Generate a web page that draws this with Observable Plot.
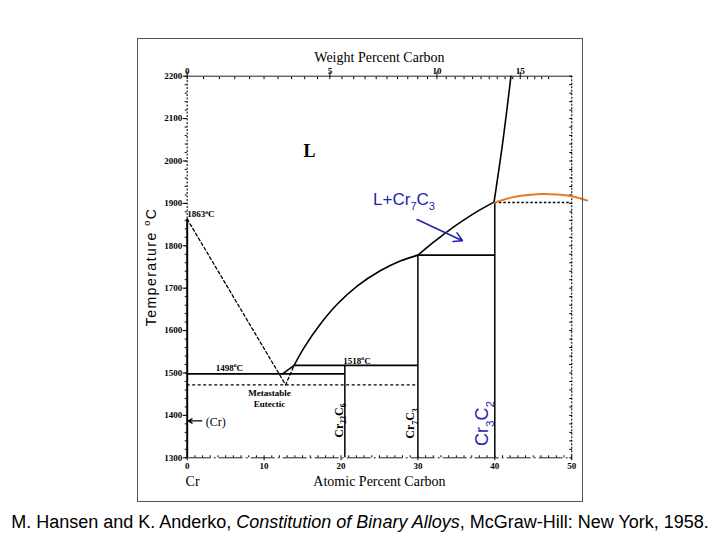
<!DOCTYPE html>
<html><head><meta charset="utf-8">
<script src="https://cdn.jsdelivr.net/npm/d3@7"></script>
<script src="https://cdn.jsdelivr.net/npm/@observablehq/plot@0.6"></script>
<style>
body{margin:0;background:#fff;width:720px;position:relative;}
#chart svg{display:block;}
#frame{position:absolute;left:137px;top:38px;width:444px;height:462px;border:1.5px solid #555;pointer-events:none;}
#caption{font-family:"Liberation Sans",Arial,sans-serif;font-size:18px;text-align:center;height:32px;line-height:28px;white-space:nowrap;color:#000;}
</style></head><body>
<div id="chart"></div>
<div id="frame"></div>
<div id="caption">M. Hansen and K. Anderko, <i>Constitution of Binary Alloys</i>, McGraw-Hill: New York, 1958.</div>
<script>
// ---- tick labels ----
const tempTicks = [1300, 1400, 1500, 1600, 1700, 1800, 1900, 2000, 2100, 2200];
const atTicks = [0, 10, 20, 30, 40, 50];
const wtTicks = [0, 5, 10, 15];

// ---- phase boundaries (atomic % C, °C) ----
const liqLowAt = [13.9, 15.2, 17.3, 19.5, 22.1, 25.1, 27.7, 30.0];
const liqLowT  = [1518, 1560, 1615, 1662, 1705, 1741, 1764, 1778];
const liqHighAt = [30.0, 32.0, 34.0, 36.0, 38.0, 39.9];
const liqHighT  = [1778, 1808, 1836, 1861, 1884, 1903];
const upperAt = [39.9, 41.0, 42.1];
const upperT  = [1903, 2040, 2200];
const eutAt = [12.4, 13.9];
const eutT  = [1498, 1518];
const metaAt = [0, 12.8, 13.9];
const metaT  = [1863, 1472, 1518];
const orangeAt = [40, 42, 44, 46, 48, 50, 52];
const orangeT  = [1902, 1913, 1919, 1922, 1921, 1917, 1907];
// isotherms
const isoT    = [1498, 1518, 1778];
const isoFrom = [0, 13.9, 30];
const isoTo   = [20.5, 30, 40];
// compounds / pure Cr (vertical lines)
const compAt  = [0, 20.5, 30, 40];
const compTop = [1863, 1518, 1778, 1903];
const metaEutT = 1472, metaEutTo = 30;
const dotT = 1902, dotFrom = 40, dotTo = 50;
const crMelt = 1863;

const MC = 12.011, MCr = 51.996;
const wtToAt = w => 100 * (w / MC) / (w / MC + (100 - w) / MCr);

const zip = (xs, ys) => xs.map((x, i) => ({x, y: ys[i]}));
const serif = "Liberation Serif, Times New Roman, serif";
const sans = "Liberation Sans, Arial, sans-serif";
const blue = "#2222b4";

const isotherms = isoT.map((t, i) => ({y: t, x1: isoFrom[i], x2: isoTo[i]}));
const comps = compAt.map((a, i) => ({x: a, y1: tempTicks[0], y2: compTop[i]}));

const labels = [
  {x: 0, y: 1874, t: "1863^oC"},
  {x: 3.7, y: 1511, t: "1498^oC"},
  {x: 20.3, y: 1528, t: "1518^oC"},
];

const chart = Plot.plot({
  width: 720, height: 508,
  marginLeft: 186.7, marginRight: 148.8, marginTop: 75.7, marginBottom: 50.7,
  x: {domain: [0, 50], axis: null},
  y: {domain: [1300, 2200], axis: null},
  marks: [
    // axis lines
    Plot.ruleY([tempTicks[tempTicks.length - 1]], {stroke: "#222", strokeWidth: 1}),
    Plot.ruleY([tempTicks[0]], {stroke: "#222", strokeWidth: 1, strokeDasharray: "24,3,2,3"}),
    Plot.ruleX([atTicks[atTicks.length - 1]], {stroke: "#222", strokeWidth: 1.2, strokeDasharray: "2,1.5"}),
    Plot.ruleX([0], {y1: crMelt, y2: tempTicks[tempTicks.length - 1], stroke: "#222", strokeWidth: 1.2, strokeDasharray: "2,1.5"}),
    // axes ticks
    Plot.axisY(tempTicks, {anchor: "left", tickSize: 4, tickPadding: 1, tickFormat: d => String(d), fontSize: 9, fontFamily: serif, fontWeight: "bold", label: null}),
    Plot.axisY(d3.range(1300, 2201, 20), {anchor: "left", tickSize: 2, tickFormat: () => "", label: null}),
    Plot.axisY(d3.range(1300, 2201, 20), {anchor: "right", tickSize: -3, tickFormat: () => "", label: null}),
    Plot.axisX(atTicks, {anchor: "bottom", tickSize: 3, tickPadding: 2, tickFormat: d => String(d), fontSize: 9, fontFamily: serif, fontWeight: "bold", label: null}),
    Plot.axisX(d3.range(0, 51, 1), {anchor: "bottom", tickSize: -2, tickFormat: () => "", label: null}),
    Plot.axisX(d3.range(0, 17.5, 0.5).map(wtToAt), {anchor: "top", tickSize: -2.5, tickFormat: () => "", label: null}),
    Plot.axisX(wtTicks.map(wtToAt), {anchor: "top", tickSize: 5, tickFormat: () => "", label: null}),
    Plot.text(wtTicks, {x: wtToAt, text: d => String(d), frameAnchor: "top", dy: -9, fontSize: 9, fontFamily: serif, fontWeight: "bold"}),
    // axis titles
    Plot.text(["Weight Percent Carbon"], {frameAnchor: "top", dy: -23.7, fontSize: 14, fontFamily: serif}),
    Plot.text(["Atomic Percent Carbon"], {frameAnchor: "bottom", dy: 27.7, fontSize: 14, fontFamily: serif}),
    Plot.text(["Cr"], {x: 0.7, frameAnchor: "bottom", dy: 27.7, fontSize: 14, fontFamily: serif}),
    Plot.text(["Temperature ^oC"], {frameAnchor: "left", textAnchor: "middle", dx: -36, rotate: -90, fontSize: 14, fontFamily: sans}),
    // phase diagram lines
    Plot.ruleX([0], {y1: tempTicks[0], y2: crMelt, stroke: "#000", strokeWidth: 2}),
    Plot.ruleX(comps.slice(1), {x: "x", y1: "y1", y2: "y2", stroke: "#000", strokeWidth: 1.5}),
    Plot.ruleY(isotherms, {y: "y", x1: "x1", x2: "x2", stroke: "#000", strokeWidth: 1.8}),
    Plot.ruleY([metaEutT], {x1: 0, x2: metaEutTo, stroke: "#000", strokeWidth: 1.4, strokeDasharray: "3,2.5"}),
    Plot.ruleY([dotT], {x1: dotFrom, x2: dotTo, stroke: "#000", strokeWidth: 1.4, strokeDasharray: "2.5,2"}),
    Plot.line(zip(metaAt, metaT), {x: "x", y: "y", stroke: "#000", strokeWidth: 1.3, strokeDasharray: "3,2.5"}),
    Plot.line(zip(eutAt, eutT), {x: "x", y: "y", stroke: "#000", strokeWidth: 1.6}),
    Plot.line(zip(liqLowAt, liqLowT), {x: "x", y: "y", stroke: "#000", strokeWidth: 1.6, curve: "catmull-rom"}),
    Plot.line(zip(liqHighAt, liqHighT), {x: "x", y: "y", stroke: "#000", strokeWidth: 1.6, curve: "catmull-rom"}),
    Plot.line(zip(upperAt, upperT), {x: "x", y: "y", stroke: "#000", strokeWidth: 1.6, curve: "catmull-rom"}),
    Plot.line(zip(orangeAt, orangeT), {x: "x", y: "y", stroke: "#e87a22", strokeWidth: 2, curve: "catmull-rom"}),
    // annotations
    Plot.text(labels, {x: "x", y: "y", text: "t", textAnchor: "start", fontSize: 9, fontFamily: serif, fontWeight: "bold"}),
    Plot.text(["Metastable\nEutectic"], {x: 10.7, y: 1441, fontSize: 9, fontFamily: serif, fontWeight: "bold", lineHeight: 1.15}),
    Plot.text(["(Cr)"], {x: 2.4, y: 1385, textAnchor: "start", fontSize: 12, fontFamily: serif}),
    Plot.arrow([{x1: 1.9, x2: 0.15, y: 1387}], {x1: "x1", x2: "x2", y1: "y", y2: "y", stroke: "#000", strokeWidth: 1.3, headLength: 5}),
    Plot.text(["L"], {x: 15.9, y: 2024, fontSize: 18, fontFamily: serif, fontWeight: "bold"}),
    Plot.text(["Cr_{23}C_6"], {x: 19.7, y: 1388, rotate: -90, fontSize: 12, fontFamily: serif, fontWeight: "bold"}),
    Plot.text(["Cr_7C_3"], {x: 29.0, y: 1381, rotate: -90, fontSize: 12, fontFamily: serif, fontWeight: "bold"}),
    Plot.text(["Cr_3C_2"], {x: 38.4, y: 1381, rotate: -90, fontSize: 18, fontFamily: sans, fill: blue}),
    Plot.text(["L+Cr_7C_3"], {x: 28.2, y: 1910, fontSize: 17, fontFamily: sans, fill: blue}),
    Plot.arrow([{x1: 29.9, y1: 1862, x2: 35.8, y2: 1812}], {x1: "x1", y1: "y1", x2: "x2", y2: "y2", stroke: blue, strokeWidth: 1.6, headLength: 9}),
  ]
});
document.getElementById("chart").appendChild(chart);

// rich text: _x subscript, ^x superscript
const NS = "http://www.w3.org/2000/svg";
chart.querySelectorAll("text").forEach(t => {
  if (t.children.length) return;
  const s = t.textContent;
  if (s.startsWith("Temperature")) t.style.letterSpacing = "1.5px";
  if (!/[_^]/.test(s)) return;
  const fs = parseFloat(getComputedStyle(t).fontSize) || 10;
  t.textContent = "";
  const re = /([_^])(\{[^}]*\}|.)|([^_^]+)/g;
  let m, off = 0;
  while ((m = re.exec(s))) {
    const ts = document.createElementNS(NS, "tspan");
    if (m[3]) {
      ts.textContent = m[3];
      if (off) ts.setAttribute("dy", (-off) + "px");
      off = 0;
    } else {
      let c = m[2];
      if (c[0] === "{") c = c.slice(1, -1);
      const target = m[1] === "_" ? 0.3 * fs : -0.42 * fs;
      ts.setAttribute("dy", (target - off) + "px");
      ts.setAttribute("font-size", (0.65 * fs) + "px");
      off = target;
      ts.textContent = c;
    }
    t.appendChild(ts);
  }
});
</script>
</body></html>
